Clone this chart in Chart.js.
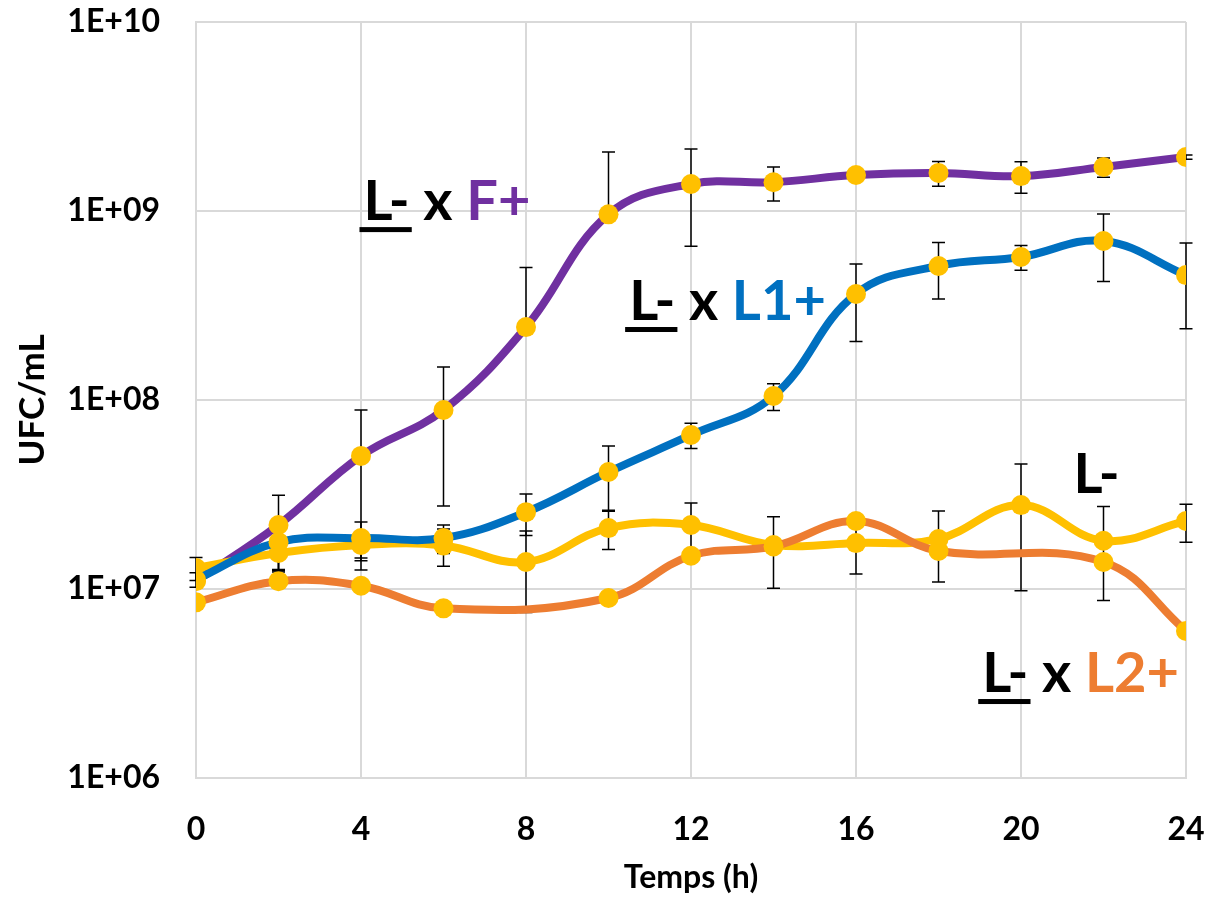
<!DOCTYPE html>
<html>
<head>
<meta charset="utf-8">
<script src="https://cdn.jsdelivr.net/npm/chart.js@4"></script>
<style>
  body { margin: 0; background: #fff; }
  #wrap { width: 1209px; height: 900px; }
</style>
</head>
<body>
<div id="wrap"><canvas id="ufcChart" width="1209" height="900"></canvas></div>
<script>
// temps de prélèvement (h)
const hours = [0, 2, 4, 6, 8, 10, 12, 14, 16, 18, 20, 22, 24];
const yTicks = [1e6, 1e7, 1e8, 1e9, 1e10];

// L- x F+
const lxF = [1.1e7, 2.18e7, 5.06e7, 8.85e7, 2.43e8, 9.6e8, 1.39e9, 1.42e9, 1.55e9, 1.59e9, 1.53e9, 1.71e9, 1.93e9];
const lxFsd = [0, 0.95e7, 3.8e7, 6.1e7, 2.6e8, 1.09e9, 0.74e9, 0.29e9, 0.05e9, 0.24e9, 0.29e9, 0.2e9, 0.05e9];

// L- x L1+
const lxL1 = [1.12e7, 1.77e7, 1.86e7, 1.86e7, 2.55e7, 4.16e7, 6.53e7, 1.05e8, 3.64e8, 5.12e8, 5.71e8, 6.94e8, 4.58e8];
const lxL1sd = [0.1e7, 0.5e7, 0.4e7, 0.32e7, 0.63e7, 1.55e7, 1.0e7, 0.17e8, 1.6e8, 1.7e8, 0.85e8, 2.7e8, 2.2e8];

// L- seul
const lMoins = [1.29e7, 1.55e7, 1.71e7, 1.7e7, 1.39e7, 2.1e7, 2.18e7, 1.71e7, 1.75e7, 1.84e7, 2.78e7, 1.8e7, 2.29e7];
const lMoinsSd = [0.18e7, 0.3e7, 0.3e7, 0.38e7, 0.64e7, 0.48e7, 0.67e7, 0.7e7, 0.55e7, 0.75e7, 1.8e7, 0.93e7, 0.52e7];

// L- x L2+ (pas de point à 8 h et 20 h)
const lxL2 = [8.5e6, 1.10e7, 1.04e7, 7.9e6, null, 8.96e6, 1.5e7, 1.68e7, 2.29e7, 1.59e7, null, 1.39e7, 6.0e6];

const FONT = "Lato, 'Open Sans', sans-serif";
const MARKER = "#FFC000";

function toXY(ys) {
    return hours.map((h, i) => ({ x: h, y: ys[i] }));
}

function serie(label, ys, color, sd) {
    return {
        label: label,
        data: toXY(ys),
        borderColor: color,
        borderWidth: 8,
        backgroundColor: MARKER,
        pointBackgroundColor: MARKER,
        pointBorderColor: MARKER,
        pointRadius: 10,
        pointBorderWidth: 0,
        tension: 0.4,
        spanGaps: true,
        errors: sd
    };
}

// barres d'erreur (± écart-type), sous les courbes
const errorBars = {
    id: "errorBars",
    beforeDatasetsDraw(chart) {
        const ctx = chart.ctx;
        const xs = chart.scales.x, ys = chart.scales.y;
        ctx.save();
        ctx.strokeStyle = "#000";
        ctx.lineWidth = 1.5;
        chart.data.datasets.forEach((ds) => {
            if (!ds.errors) return;
            ds.data.forEach((p, i) => {
                const sd = ds.errors[i];
                if (p.y == null || !sd) return;
                const px = xs.getPixelForValue(p.x);
                const top = ys.getPixelForValue(p.y + sd);
                const lowVal = p.y - sd;
                const mid = ys.getPixelForValue(p.y);
                ctx.beginPath();
                ctx.moveTo(px, top); ctx.lineTo(px, mid);
                ctx.moveTo(px - 6.5, top); ctx.lineTo(px + 6.5, top);
                if (lowVal > 0) {
                    const bot = ys.getPixelForValue(lowVal);
                    ctx.moveTo(px, mid); ctx.lineTo(px, bot);
                    ctx.moveTo(px - 6.5, bot); ctx.lineTo(px + 6.5, bot);
                }
                ctx.stroke();
            });
        });
        ctx.restore();
    }
};

// étiquettes des courbes, ancrées en coordonnées de données
const curveLabels = [
    { h: 4.06, v: 8.95e8, name: "F+", color: "#7030A0" },
    { h: 10.5, v: 2.65e8, name: "L1+", color: "#0070C0" },
    { h: 19.06, v: 2.85e6, name: "L2+", color: "#ED7D31" },
    { h: 21.27, v: 3.22e7, name: null, color: "#000" }
];

const labelPlugin = {
    id: "curveLabels",
    afterDraw(chart) {
        const ctx = chart.ctx;
        const xs = chart.scales.x, ys = chart.scales.y;
        ctx.save();
        ctx.font = "bold 56px " + FONT;
        ctx.textBaseline = "alphabetic";
        ctx.textAlign = "left";
        curveLabels.forEach((lb) => {
            let x = xs.getPixelForValue(lb.h);
            const y = ys.getPixelForValue(lb.v);
            ctx.fillStyle = "#000";
            ctx.fillText("L-", x, y);
            const w = ctx.measureText("L-").width;
            if (lb.name) {
                ctx.fillRect(x - 4, y + 7, w + 6, 5);
                x += w;
                ctx.fillText(" x ", x, y);
                x += ctx.measureText(" x ").width;
                ctx.fillStyle = lb.color;
                ctx.fillText(lb.name, x, y);
            }
        });
        ctx.restore();
    }
};

const ctx = document.getElementById("ufcChart").getContext("2d");
new Chart(ctx, {
    type: "line",
    data: {
        datasets: [
            serie("L- x L2+", lxL2, "#ED7D31", null),
            serie("L- x L1+", lxL1, "#0070C0", lxL1sd),
            serie("L-", lMoins, "#FFC000", lMoinsSd),
            serie("L- x F+", lxF, "#7030A0", lxFsd)
        ]
    },
    options: {
        responsive: false,
        animation: false,
        layout: { padding: { top: 22, right: 23, left: 0, bottom: 0 } },
        plugins: {
            legend: { display: false },
            tooltip: { enabled: false }
        },
        scales: {
            x: {
                type: "linear",
                min: 0,
                max: 24,
                afterFit(scale) {
                    scale.height = 122;
                    scale.paddingLeft = 0;
                    scale.paddingRight = 0;
                },
                grid: { color: "#d9d9d9", lineWidth: 2, drawTicks: false },
                border: { color: "#d9d9d9", width: 2 },
                ticks: {
                    stepSize: 4,
                    padding: 32,
                    color: "#000",
                    font: { family: FONT, size: 32, weight: "bold" }
                },
                title: {
                    display: true,
                    text: "Temps (h)",
                    color: "#000",
                    padding: { top: 0, bottom: 3 },
                    font: { family: FONT, size: 32, weight: "bold" }
                }
            },
            y: {
                type: "logarithmic",
                min: 1e6,
                max: 1e10,
                afterFit(scale) {
                    scale.width = 196;
                    scale.paddingTop = 0;
                    scale.paddingBottom = 0;
                },
                afterBuildTicks(scale) {
                    scale.ticks = yTicks.map((v) => ({ value: v }));
                },
                grid: { color: "#d9d9d9", lineWidth: 2, drawTicks: false },
                border: { color: "#d9d9d9", width: 2 },
                ticks: {
                    padding: 36,
                    color: "#000",
                    font: { family: FONT, size: 32, weight: "bold" },
                    callback: (v) => "1E+" + String(Math.round(Math.log10(v))).padStart(2, "0")
                },
                title: {
                    display: true,
                    text: "UFC/mL",
                    color: "#000",
                    padding: { top: 12, bottom: 0 },
                    font: { family: FONT, size: 35, weight: "bold" }
                }
            }
        }
    },
    plugins: [errorBars, labelPlugin]
});
</script>
</body>
</html>
